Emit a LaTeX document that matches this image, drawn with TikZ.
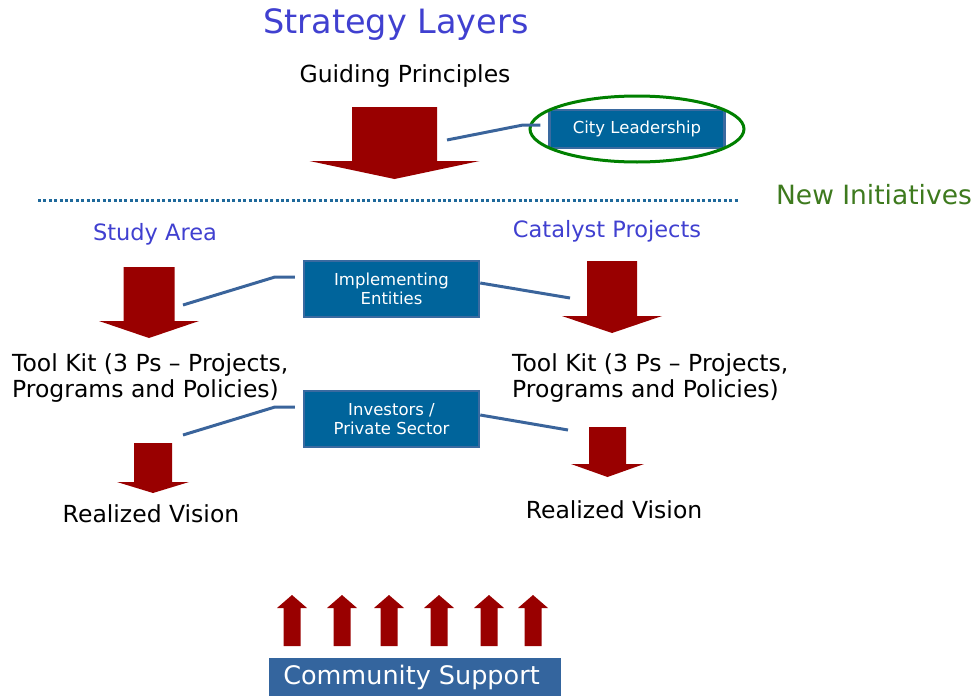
\documentclass[tikz,border=0pt]{standalone}
\usepackage{fontspec}
\setmainfont{DejaVu Sans}
\definecolor{arrowred}{RGB}{153,0,0}
\definecolor{layerblue}{RGB}{64,64,208}
\definecolor{newgreen}{RGB}{62,122,30}
\definecolor{ringgreen}{RGB}{0,128,0}
\definecolor{boxblue}{RGB}{0,100,155}
\definecolor{edgeblue}{RGB}{58,106,160}
\definecolor{linkblue}{RGB}{58,100,155}
\definecolor{dotblue}{RGB}{31,105,155}
\definecolor{supportblue}{RGB}{52,101,158}
\begin{document}
\begin{tikzpicture}
[
   x=1pt, y=-1pt,
   every node/.style={inner sep=0pt},
   heading/.style={font=\fontsize{22.5}{26}\selectfont, text=layerblue},
   plain/.style={font=\fontsize{23.5}{26}\selectfont},
   box/.style={fill=boxblue, draw=edgeblue, line width=2.5pt, text=white,
     minimum width=175pt, align=center, font=\fontsize{16.5}{19}\selectfont},
   link/.style={draw=linkblue, line width=3pt},
   pics/downarrow/.style n args={4}{code={
     \fill[arrowred] (-#1,0) -- (#1,0) -- (#1,#3) -- (#2,#3) -- (0,#4)
       -- (-#2,#3) -- (-#1,#3) -- cycle;
   }}
]
\useasboundingbox (0,0) rectangle (977,696);

% layer titles
\node (title) [font=\fontsize{33.5}{40}\selectfont, text=layerblue] at (396,25) {Strategy Layers};
\node (guide) [plain] at (405,76) {Guiding Principles};
\pic at (394.5,107) {downarrow={42.5}{85}{54}{72}};

% city leadership
\node (lead) [box, minimum height=38pt] at (637,129) {City Leadership};
\draw [ringgreen, line width=3pt] (lead.center) ellipse [x radius=107pt, y radius=33pt];
\coordinate (lead-tail) at (447,140);
\draw [link] (lead-tail) -- (523,125) -- ([xshift=-8pt, yshift=4pt]lead.west);

% divider
\coordinate (div-a) at (38,200);
\coordinate (div-b) at (738,200);
\draw [dotblue, line width=3pt, dash pattern=on 3pt off 2.4pt] (div-a) -- (div-b);
\node (new) [font=\fontsize{26.5}{30}\selectfont, text=newgreen] at (874,195) {New Initiatives};

% two columns
\node (study) [heading] at (155,234) {Study Area};
\node (catalyst) [heading] at (607,231) {Catalyst Projects};
\pic at (149,267) {downarrow={25.5}{50}{54}{71}};
\pic at (612,261) {downarrow={25}{50}{55}{72}};

\node (impl) [box, minimum height=56pt] at (391.5,289) {Implementing\\Entities};
\coordinate (impl-l) at (183,305);
\coordinate (impl-r) at (570,298);
\draw [link] (impl-l) -- (275,277) -- ([xshift=-8pt, yshift=12pt]impl.west);
\draw [link] ([yshift=6pt]impl.east) -- (impl-r);

\node (kit-l) [plain, anchor=west, align=left] at (12,378) {Tool Kit (3 Ps -- Projects,\\Programs and Policies)};
\node (kit-r) [plain, anchor=west, align=left] at (512,378) {Tool Kit (3 Ps -- Projects,\\Programs and Policies)};

\node (inv) [box, minimum height=56pt] at (391.5,419) {Investors /\\Private Sector};
\coordinate (inv-l) at (183,435);
\coordinate (inv-r) at (568,430);
\draw [link] (inv-l) -- (275,407) -- ([xshift=-8pt, yshift=12pt]inv.west);
\draw [link] ([yshift=4pt]inv.east) -- (inv-r);

\pic at (153,443) {downarrow={19}{36}{39}{50}};
\pic at (607.5,427) {downarrow={18.5}{36.5}{37}{50}};
\node (vision-l) [plain] at (151,514) {Realized Vision};
\node (vision-r) [plain] at (614,510) {Realized Vision};

% community support
\foreach \x in {292,342,389,439,489,533}
  \pic [yscale=-1] at (\x,646) {downarrow={8.5}{15}{38}{51}};
\node (support) [fill=supportblue, text=white, minimum width=292pt, minimum height=38pt,
  font=\fontsize{25.5}{30}\selectfont] at (415,677) {\hspace*{-7pt}Community Support};
\end{tikzpicture}
\end{document}
